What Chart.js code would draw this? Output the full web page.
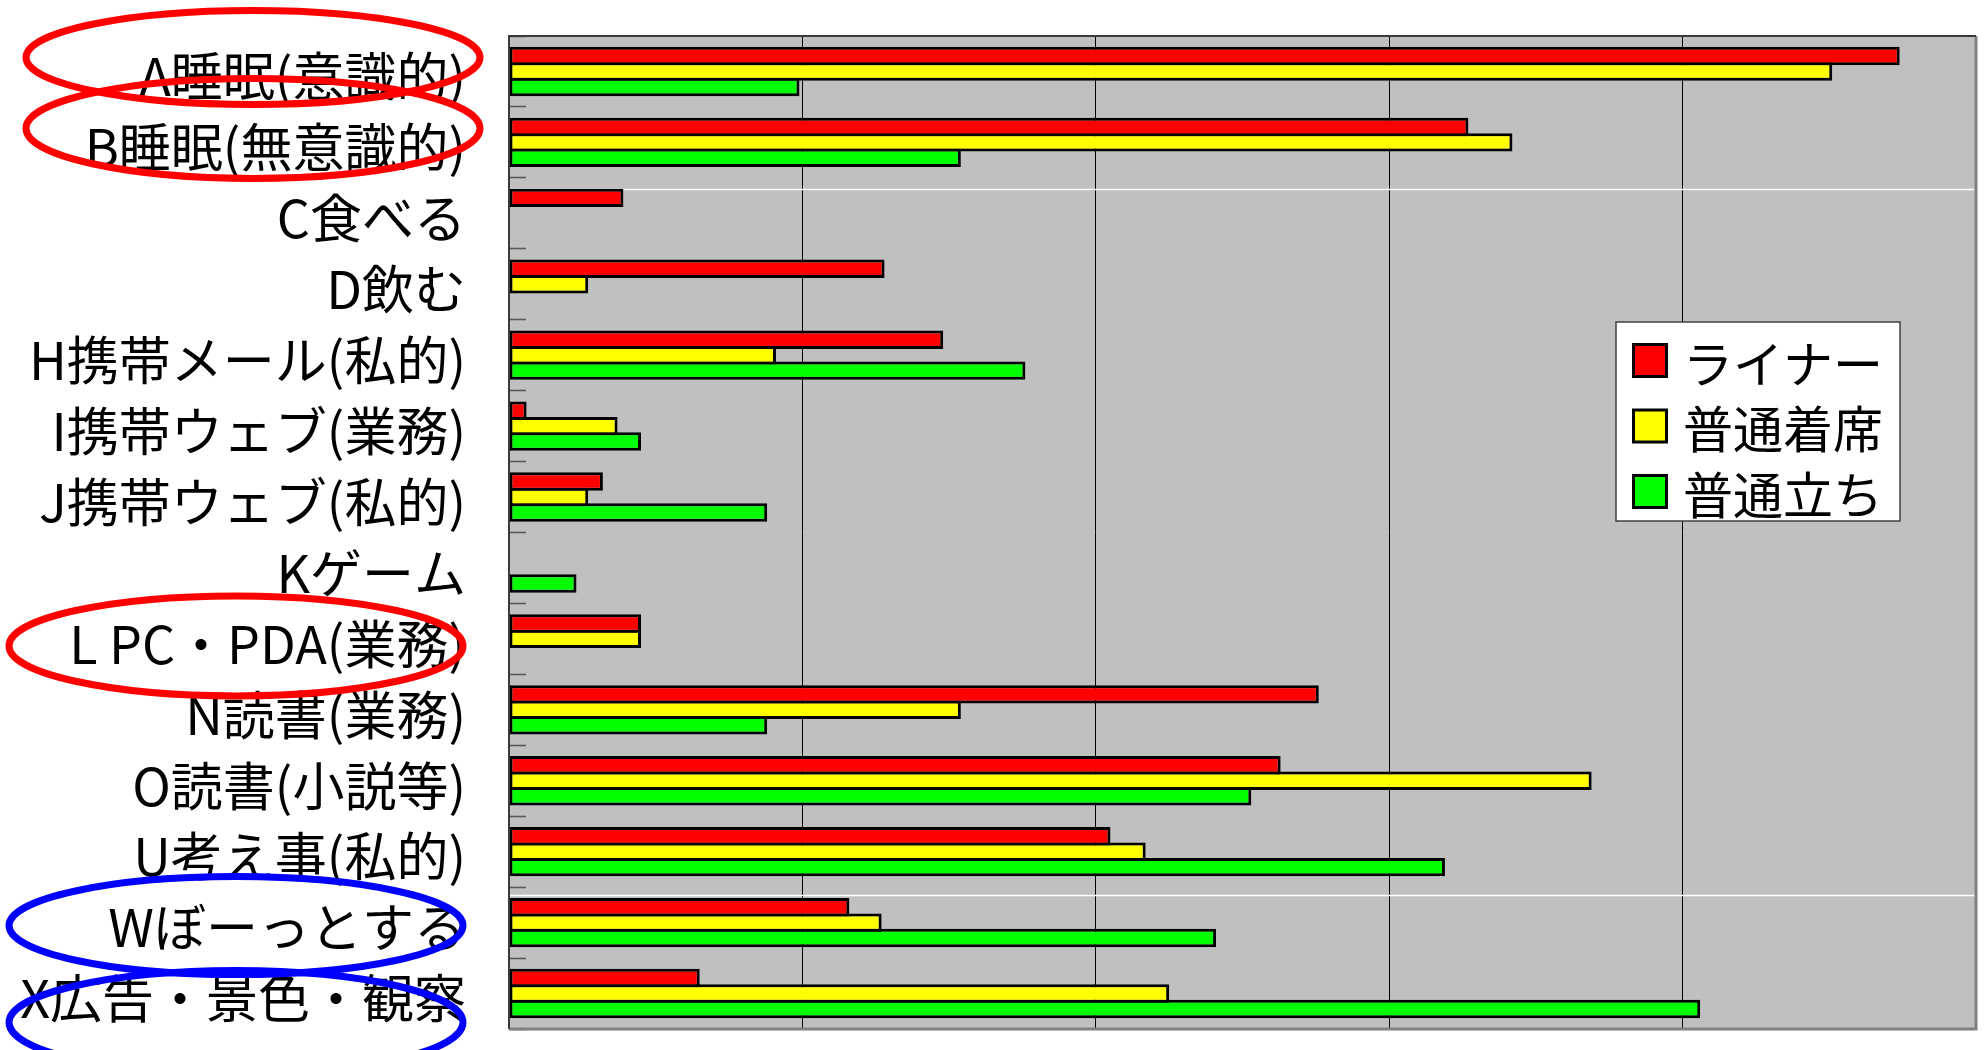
<!DOCTYPE html>
<html lang="ja">
<head>
<meta charset="UTF-8">
<title>車内での行動</title>
<script src="https://cdn.jsdelivr.net/npm/chart.js@4.4.1/dist/chart.umd.min.js"></script>
<style>
  html, body { margin: 0; padding: 0; background: #fff; }
  #chartBox { position: relative; width: 1988px; height: 1050px; }
</style>
</head>
<body>
<div id="chartBox"><canvas id="activityChart"></canvas></div>
<script>
// === Data ===
const categories = [
  "A睡眠(意識的)",
  "B睡眠(無意識的)",
  "C食べる",
  "D飲む",
  "H携帯メール(私的)",
  "I携帯ウェブ(業務)",
  "J携帯ウェブ(私的)",
  "Kゲーム",
  "L PC・PDA(業務)",
  "N読書(業務)",
  "O読書(小説等)",
  "U考え事(私的)",
  "Wぼーっとする",
  "X広告・景色・観察"
];
const seriesNames = ["ライナー", "普通着席", "普通立ち"];
const linerValues    = [47.4, 32.7, 3.9, 12.8, 14.8, 0.6, 3.2, 0,   4.5, 27.6, 26.3, 20.5, 11.6, 6.5];
const seatedValues   = [45.1, 34.2, 0,   2.7,  9.1,  3.7, 2.7, 0,   4.5, 15.4, 36.9, 21.7, 12.7, 22.5];
const standingValues = [9.9,  15.4, 0,   0,    17.6, 4.5, 8.8, 2.3, 0,   8.8,  25.3, 31.9, 24.1, 40.6];
const valueTicks = [0, 10, 20, 30, 40, 50];

const seriesColors = ["#FF0000", "#FFFF00", "#00FF00"];
const labelFont = "'Noto Sans CJK JP', 'Noto Sans', sans-serif";

// ellipses drawn round some of the row labels
const highlights = [
  { label: "A睡眠(意識的)",     color: "#FF0000", cx: 253, dy: -14, rx: 227, ry: 47 },
  { label: "B睡眠(無意識的)",   color: "#FF0000", cx: 253, dy: -14, rx: 227, ry: 50 },
  { label: "L PC・PDA(業務)",   color: "#FF0000", cx: 236, dy: 7,   rx: 227, ry: 50 },
  { label: "Wぼーっとする",     color: "#0000FF", cx: 236, dy: 3,   rx: 227, ry: 49 },
  { label: "X広告・景色・観察", color: "#0000FF", cx: 236, dy: 29,  rx: 227, ry: 52 }
];

// === Plugins ===
const plotBackground = {
  id: "plotBackground",
  beforeDraw(chart) {
    const { ctx, chartArea: a } = chart;
    ctx.save();
    ctx.fillStyle = "#C0C0C0";
    ctx.fillRect(a.left, a.top, a.width, a.height);
    ctx.restore();
  }
};

// two thin white streaks across the plot, under the bars
const plotStreaks = {
  id: "plotStreaks",
  beforeDatasetsDraw(chart) {
    const { ctx, chartArea: a } = chart;
    ctx.save();
    ctx.strokeStyle = "#FFFFFF";
    ctx.lineWidth = 1.5;
    [0.154, 0.865].forEach(f => {
      const y = Math.round(a.top + a.height * f) + 0.5;
      ctx.beginPath();
      ctx.moveTo(a.left, y);
      ctx.lineTo(a.right, y);
      ctx.stroke();
    });
    ctx.restore();
  }
};

const plotFrame = {
  id: "plotFrame",
  afterDatasetsDraw(chart) {
    const { ctx, chartArea: a } = chart;
    ctx.save();
    ctx.strokeStyle = "#808080";
    ctx.lineWidth = 3;
    ctx.beginPath();
    ctx.moveTo(a.right, a.top);
    ctx.lineTo(a.right, a.bottom);
    ctx.lineTo(a.left, a.bottom);
    ctx.stroke();
    ctx.strokeStyle = "#3A3A3A";
    ctx.lineWidth = 2;
    ctx.beginPath();
    ctx.moveTo(a.left, a.bottom);
    ctx.lineTo(a.left, a.top);
    ctx.lineTo(a.right, a.top);
    ctx.stroke();
    ctx.restore();
  }
};

// boxed legend sitting inside the plot
const boxLegend = {
  id: "boxLegend",
  afterDraw(chart) {
    const { ctx } = chart;
    const box = { x: 1616, y: 322, w: 284, h: 199 };
    ctx.save();
    ctx.fillStyle = "#FFFFFF";
    ctx.fillRect(box.x, box.y, box.w, box.h);
    ctx.strokeStyle = "#404040";
    ctx.lineWidth = 1.5;
    ctx.strokeRect(box.x, box.y, box.w, box.h);

    ctx.font = `50px ${labelFont}`;
    ctx.textBaseline = "middle";
    ctx.textAlign = "left";
    chart.data.datasets.forEach((ds, i) => {
      const cy = box.y + 38.5 + i * 65.5;
      ctx.fillStyle = "#000000";
      ctx.fillRect(box.x + 16, cy - 17.5, 36, 35);
      ctx.fillStyle = ds.backgroundColor;
      ctx.fillRect(box.x + 19, cy - 14.5, 30, 29);
      ctx.fillStyle = "#000000";
      ctx.fillText(ds.label, box.x + 67, cy + 3);
    });
    ctx.restore();
  }
};

const labelRings = {
  id: "labelRings",
  afterDraw(chart) {
    const { ctx } = chart;
    const yScale = chart.scales.y;
    ctx.save();
    ctx.lineWidth = 7;
    highlights.forEach(h => {
      const y = yScale.getPixelForValue(categories.indexOf(h.label)) + h.dy;
      ctx.strokeStyle = h.color;
      ctx.beginPath();
      ctx.ellipse(h.cx, y, h.rx, h.ry, 0, 0, Math.PI * 2);
      ctx.stroke();
    });
    ctx.restore();
  }
};

// === Chart ===
function makeSeries(name, values, color) {
  return {
    label: name,
    data: values,
    backgroundColor: color,
    borderColor: "#000000",
    borderWidth: 3,
    borderSkipped: false,
    categoryPercentage: 0.653,
    barPercentage: 1.195
  };
}

const ctx = document.getElementById("activityChart").getContext("2d");
new Chart(ctx, {
  type: "bar",
  data: {
    labels: categories,
    datasets: [
      makeSeries(seriesNames[0], linerValues, seriesColors[0]),
      makeSeries(seriesNames[1], seatedValues, seriesColors[1]),
      makeSeries(seriesNames[2], standingValues, seriesColors[2])
    ]
  },
  options: {
    indexAxis: "y",
    responsive: true,
    maintainAspectRatio: false,
    animation: false,
    layout: { padding: { top: 36, right: 12, bottom: 21, left: 0 } },
    plugins: {
      legend: { display: false },
      tooltip: { enabled: false }
    },
    scales: {
      x: {
        min: valueTicks[0],
        max: valueTicks[valueTicks.length - 1],
        ticks: { display: false, stepSize: valueTicks[1] - valueTicks[0] },
        grid: { color: "#000000", lineWidth: 1, drawTicks: false },
        border: { display: false }
      },
      y: {
        ticks: {
          autoSkip: false,
          color: "#000000",
          font: { family: labelFont, size: 52 },
          padding: 60,
          labelOffset: 5
        },
        grid: {
          offset: true,
          drawOnChartArea: false,
          drawTicks: true,
          tickLength: -17,   // tick marks point into the plot
          tickColor: "#555555",
          tickWidth: 1.5
        },
        border: { display: false },
        afterFit(scale) {
          // fixed label column, no extra room above/below for the end labels
          scale.width = 509;
          scale.paddingTop = 0;
          scale.paddingBottom = 0;
        }
      }
    }
  },
  plugins: [plotBackground, plotStreaks, plotFrame, boxLegend, labelRings]
});
</script>
</body>
</html>
